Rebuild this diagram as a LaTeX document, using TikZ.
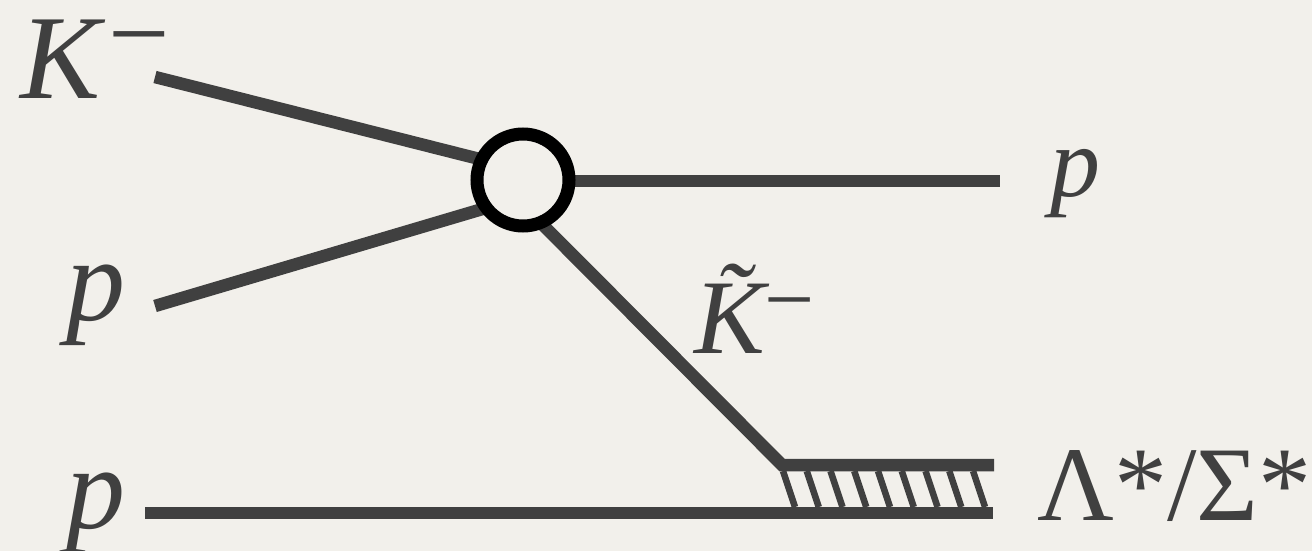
\documentclass[tikz,border=0pt]{standalone}
\usepackage{fontspec}
\setmainfont{Liberation Serif}
\definecolor{bg}{RGB}{242,240,235}
\definecolor{ink}{RGB}{64,64,64}
\begin{document}
\begin{tikzpicture}[x=1pt,y=-1pt,
  line/.style={draw=ink,line width=12.5pt},
  hatchline/.style={draw=ink,line width=6.5pt},
  vertex/.style={circle,draw=black,fill=bg,line width=13pt,minimum size=92pt,inner sep=0pt},
  lbl/.style={inner sep=0pt,anchor=base west,text=ink}]
\fill[bg] (0,0) rectangle (1312,551);
\useasboundingbox (0,0) rectangle (1312,551);
% coordinates
\coordinate (kin) at (155,77);
\coordinate (kend) at (523,170);
\coordinate (pin) at (155,306);
\coordinate (pend) at (523,197);
\coordinate (pout0) at (523,181);
\coordinate (pout) at (1000,181);
\coordinate (kt0) at (523,205);
\coordinate (corner) at (782,465);
\coordinate (lamend) at (994,465);
\coordinate (pb0) at (145,513);
\coordinate (pb1) at (993,513);
% lines
\draw[line] (kin) -- (kend);
\draw[line] (pin) -- (pend);
\draw[line] (pout0) -- (pout);
\draw[line,line join=miter] (kt0) -- (corner) -- (lamend);
\draw[line] (pb0) -- (pb1);
\foreach \i in {0,...,8}{
  \draw[hatchline] ({783+23.75*\i},471) -- ({795+23.75*\i},507);
}
\node[vertex] (v) at (523,180) {};
% labels
\node[lbl,font=\fontsize{120}{120}\selectfont\itshape] (lK) at (20,98) {K\hspace{8pt}\raisebox{28pt}[0.42em][0pt]{\fontsize{109}{109}\selectfont\upshape −}};
\node[lbl,font=\fontsize{118}{118}\selectfont\itshape] (lp1) at (66,320) {p};
\node[lbl,font=\fontsize{118}{118}\selectfont\itshape] (lp2) at (66,528) {p};
\node[lbl,font=\fontsize{100}{100}\selectfont\itshape] (lp3) at (1050,196) {p};
\node[lbl,font=\fontsize{106}{106}\selectfont\itshape] (lKt) at (694,353) {\~{K}\hspace{0pt}\raisebox{24pt}[0.42em][0pt]{\fontsize{89}{89}\selectfont\upshape −}};
\node[lbl,font=\fontsize{106}{106}\selectfont] (lL) at (1037,520) {Λ*/Σ*};
\end{tikzpicture}
\end{document}
